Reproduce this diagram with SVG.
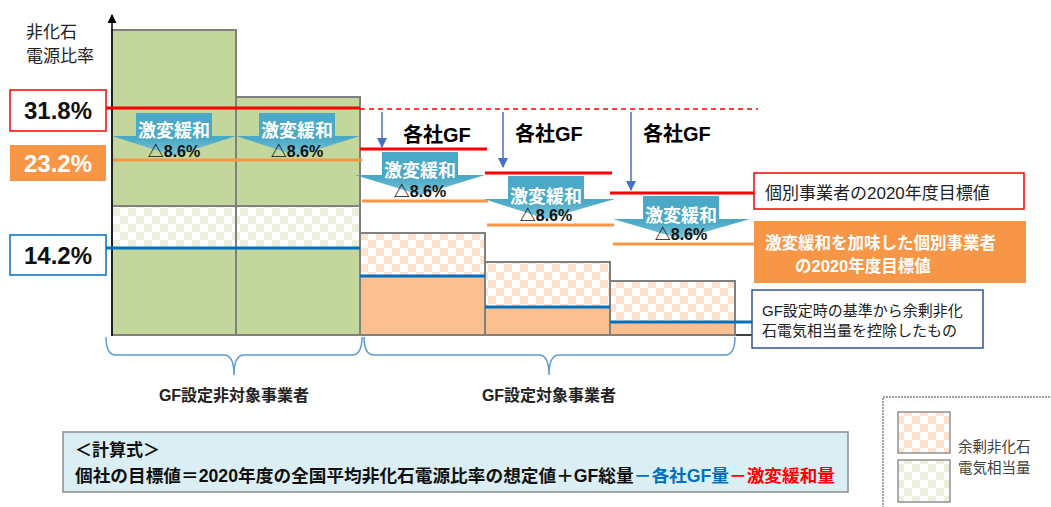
<svg xmlns="http://www.w3.org/2000/svg" width="1051" height="507" viewBox="0 0 1051 507">
<defs>
<pattern id="chkO" width="16" height="16" patternUnits="userSpaceOnUse"><rect width="16" height="16" fill="#ffffff"/><rect width="8" height="8" fill="#fde3cf"/><rect x="8" y="8" width="8" height="8" fill="#fde3cf"/></pattern>
<pattern id="chkG" width="16" height="16" patternUnits="userSpaceOnUse"><rect width="16" height="16" fill="#ffffff"/><rect width="8" height="8" fill="#eaf0dc"/><rect x="8" y="8" width="8" height="8" fill="#eaf0dc"/></pattern>
<linearGradient id="ba" x1="0" y1="0" x2="0" y2="1"><stop offset="0" stop-color="#4aa9c6"/><stop offset="0.6" stop-color="#4aa9c6"/><stop offset="1" stop-color="#82c6da"/></linearGradient>
<marker id="ar" viewBox="0 0 10 10" refX="9" refY="5" markerWidth="7" markerHeight="7" orient="auto"><path d="M0,0 L10,5 L0,10 z" fill="#4472c4"/></marker>
<marker id="ax" viewBox="0 0 10 10" refX="9" refY="5" markerWidth="6" markerHeight="6" orient="auto"><path d="M0,0 L10,5 L0,10 z" fill="#000"/></marker>
</defs>
<style>
.bar{stroke:#808080;stroke-width:2}
.t{font-family:"Liberation Sans","Noto Sans CJK JP",sans-serif}
.b{font-weight:bold}
.red{stroke:#ff0000;stroke-width:3;fill:none}
.org{stroke:#f79646;stroke-width:3;fill:none}
.blu{stroke:#0070c0;stroke-width:3;fill:none}
.brace{stroke:#5b9bd5;stroke-width:1.5;fill:none}
.garr{stroke:#4472c4;stroke-width:1.5;fill:none}
.bt1{font-size:18px;font-weight:bold;fill:#ffffff;text-anchor:middle}
.bt2{font-size:16px;font-weight:bold;fill:#111;text-anchor:middle}
.gf{font-size:20px;font-weight:bold;fill:#000}
</style>

<g id="axis-bottom"><line x1="112" y1="335" x2="752" y2="335" stroke="#000" stroke-width="1.5"/></g>

<g id="bar1">
<rect x="112" y="30" width="124" height="305" fill="#c3d69b" class="bar"/>
<rect x="112" y="206" width="124" height="42" fill="url(#chkG)" class="bar"/>
</g>
<g id="bar2">
<rect x="236" y="97" width="124" height="238" fill="#c3d69b" class="bar"/>
<rect x="236" y="206" width="124" height="42" fill="url(#chkG)" class="bar"/>
</g>
<g id="bar3">
<rect x="360" y="233" width="125" height="102" fill="#fac090" class="bar"/>
<rect x="360" y="233" width="125" height="43" fill="url(#chkO)" class="bar"/>
</g>
<g id="bar4">
<rect x="485" y="262" width="125" height="73" fill="#fac090" class="bar"/>
<rect x="485" y="262" width="125" height="45" fill="url(#chkO)" class="bar"/>
</g>
<g id="bar5">
<rect x="610" y="281" width="125" height="54" fill="#fac090" class="bar"/>
<rect x="610" y="281" width="125" height="41" fill="url(#chkO)" class="bar"/>
</g>

<g id="yaxis"><line x1="112" y1="336" x2="112" y2="15" stroke="#000" stroke-width="1.5" marker-end="url(#ax)"/></g>

<g id="connectors">
<line x1="106" y1="108" x2="360" y2="108" class="red"/>
<line x1="360" y1="109" x2="758" y2="109" stroke="#ff0000" stroke-width="1.5" stroke-dasharray="5 4"/>
<line x1="360" y1="149" x2="487" y2="149" class="red"/>
<line x1="485" y1="173" x2="612" y2="173" class="red"/>
<line x1="610" y1="193" x2="754" y2="193" class="red"/>
<line x1="113" y1="160" x2="362" y2="160" class="org"/>
<line x1="362" y1="201" x2="488" y2="201" class="org"/>
<line x1="487" y1="225" x2="614" y2="225" class="org"/>
<line x1="613" y1="244" x2="754" y2="244" class="org"/>
<line x1="106" y1="248" x2="360" y2="248" class="blu"/>
<line x1="360" y1="276" x2="485" y2="276" class="blu"/>
<line x1="485" y1="307" x2="610" y2="307" class="blu"/>
<line x1="610" y1="322" x2="752" y2="322" class="blu"/>
<line x1="382" y1="112" x2="382" y2="147" class="garr" marker-end="url(#ar)"/>
<line x1="503" y1="112" x2="503" y2="167" class="garr" marker-end="url(#ar)"/>
<line x1="631" y1="112" x2="631" y2="190" class="garr" marker-end="url(#ar)"/>
<path d="M106,337 Q106,355 116,355 L224,355 Q234,355 234,375 Q234,355 244,355 L352,355 Q362,355 362,337" class="brace"/>
<path d="M364,337 Q364,355 374,355 L539,355 Q549,355 549,375 Q549,355 559,355 L725,355 Q735,355 735,337" class="brace"/>
</g>

<g id="mitigation1">
<path d="M136,113 H212 V136 H236 L174,156 L112,136 H136 Z" fill="url(#ba)"/>
<text x="174" y="137" class="t bt1">激変緩和</text>
<text x="174" y="157" class="t bt2">△8.6%</text>
</g>
<g id="mitigation2">
<path d="M259,113 H335 V136 H360 L297,156 L236,136 H259 Z" fill="url(#ba)"/>
<text x="297" y="137" class="t bt1">激変緩和</text>
<text x="297" y="157" class="t bt2">△8.6%</text>
</g>
<g id="mitigation3">
<path d="M382,152 H458 V175 H485 L420,195 L355,175 H382 Z" fill="url(#ba)"/>
<text x="420" y="177" class="t bt1">激変緩和</text>
<text x="420" y="197" class="t bt2">△8.6%</text>
</g>
<g id="mitigation4">
<path d="M508,176 H584 V199 H615 L546,219 L484,199 H508 Z" fill="url(#ba)"/>
<text x="546" y="203" class="t bt1">激変緩和</text>
<text x="546" y="221" class="t bt2">△8.6%</text>
</g>
<g id="mitigation5">
<path d="M643,196 H719 V219 H750 L681,239 L613,219 H643 Z" fill="url(#ba)"/>
<text x="681" y="222" class="t bt1">激変緩和</text>
<text x="681" y="240" class="t bt2">△8.6%</text>
</g>

<g id="gf1"><text x="403" y="142" class="t gf">各社GF</text></g>
<g id="gf2"><text x="515" y="141" class="t gf">各社GF</text></g>
<g id="gf3"><text x="643" y="141" class="t gf">各社GF</text></g>

<g id="ylabel">
<text x="26" y="38" class="t" font-size="17" fill="#222">非化石</text>
<text x="26" y="62" class="t" font-size="17" fill="#222">電源比率</text>
</g>
<g id="v318">
<rect x="10" y="90" width="96" height="41" fill="#fff" stroke="#ff0000" stroke-width="1.5"/>
<text x="58" y="119" class="t b" font-size="24" text-anchor="middle" fill="#111">31.8%</text>
</g>
<g id="v232">
<rect x="10" y="145" width="96" height="36" fill="#f79646"/>
<text x="58" y="172" class="t b" font-size="24" text-anchor="middle" fill="#fff">23.2%</text>
</g>
<g id="v142">
<rect x="10" y="235" width="96" height="40" fill="#fff" stroke="#0070c0" stroke-width="1.5"/>
<text x="58" y="264" class="t b" font-size="24" text-anchor="middle" fill="#111">14.2%</text>
</g>

<g id="label-target">
<rect x="754" y="173" width="270" height="36" fill="#fff" stroke="#ff0000" stroke-width="1.5"/>
<text x="765" y="199" class="t" font-size="17" fill="#222">個別事業者の2020年度目標値</text>
</g>
<g id="label-mitigated">
<rect x="754" y="221" width="272" height="62" fill="#f79646"/>
<text x="765" y="249" class="t b" font-size="16.5" fill="#fff">激変緩和を加味した個別事業者</text>
<text x="795" y="272" class="t b" font-size="16.5" fill="#fff">の2020年度目標値</text>
</g>
<g id="label-excluded">
<rect x="752" y="290" width="231" height="58" fill="#fff" stroke="#2f5597" stroke-width="1.5"/>
<text x="762" y="316" class="t" font-size="15" fill="#222">GF設定時の基準から余剰非化</text>
<text x="762" y="336" class="t" font-size="15" fill="#222">石電気相当量を控除したもの</text>
</g>

<g id="group-nontarget"><text x="234" y="401" class="t b" font-size="16" text-anchor="middle" fill="#222">GF設定非対象事業者</text></g>
<g id="group-target"><text x="549" y="401" class="t b" font-size="16" text-anchor="middle" fill="#222">GF設定対象事業者</text></g>

<g id="formula">
<rect x="63" y="432" width="785" height="60" fill="#dbeef4" stroke="#8c8c8c" stroke-width="1.5"/>
<text x="75" y="456" class="t b" font-size="17" fill="#111">＜計算式＞</text>
<text x="75" y="482" class="t b" font-size="17.5" fill="#111" textLength="760" lengthAdjust="spacingAndGlyphs">個社の目標値＝2020年度の全国平均非化石電源比率の想定値＋GF総量<tspan fill="#0070c0">－各社GF量</tspan><tspan fill="#ff0000">－激変緩和量</tspan></text>
</g>

<g id="legend">
<rect x="883" y="397" width="200" height="130" fill="#fff" stroke="#808080" stroke-width="1.5" stroke-dasharray="2 1"/>
<rect x="898" y="412" width="52" height="41" fill="url(#chkO)" stroke="#909090" stroke-width="1.5"/>
<rect x="898" y="460" width="52" height="42" fill="url(#chkG)" stroke="#909090" stroke-width="1.5"/>
<text x="958" y="452" class="t" font-size="14.5" fill="#404040">余剰非化石</text>
<text x="958" y="473" class="t" font-size="14.5" fill="#404040">電気相当量</text>
</g>
</svg>
